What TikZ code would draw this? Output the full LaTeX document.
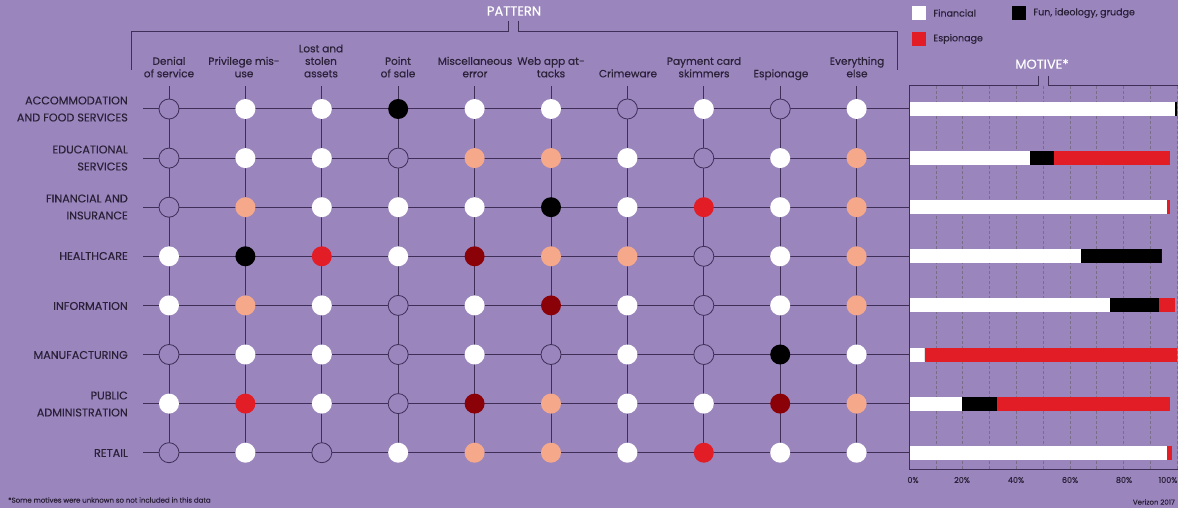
\documentclass[tikz,border=0pt]{standalone}
\usepackage{fontspec}
\setmainfont{Poppins}[FakeBold=0.35]
\usetikzlibrary{positioning, backgrounds}
\definecolor{bgpurple}{HTML}{9A86BD}
\definecolor{gridline}{HTML}{3F2E58}
\definecolor{inkdark}{HTML}{2A2038}
\definecolor{peach}{HTML}{F6A98A}
\definecolor{alertred}{HTML}{E21D25}
\definecolor{darkred}{HTML}{8A0208}

\begin{document}
\begin{tikzpicture}[x=1pt, y=-1pt,
  dot/.style={circle, minimum size=20pt, inner sep=0pt},
  m-e/.style={fill=bgpurple, draw=gridline, line width=0.8pt},
  m-w/.style={fill=white},
  m-k/.style={fill=black},
  m-p/.style={fill=peach},
  m-r/.style={fill=alertred},
  m-d/.style={fill=darkred},
  colhead/.style={font=\fontsize{10.5}{12.5}\selectfont, text=inkdark, align=center, anchor=south, text depth=0.25em, inner sep=0pt},
  rowhead/.style={font=\fontsize{11.2}{17}\selectfont, text=inkdark, align=right, anchor=east, inner sep=0pt},
  gridrule/.style={draw=gridline, line width=1pt},
  tenline/.style={draw=gridline!70, line width=0.5pt, densely dashed},
  title/.style={font=\fontsize{13}{15}\selectfont, text=white},
  legsq/.style={minimum size=14pt, inner sep=0pt},
  legtxt/.style={font=\fontsize{9.5}{11}\selectfont, text=inkdark, inner sep=0pt},
  ticklbl/.style={font=\fontsize{8}{10}\selectfont, text=inkdark}
]
  \useasboundingbox (0,0) rectangle (1178,508);

  % Titles
  \node[title] (pattern) at (514,11) {PATTERN};
  \node[title] (motive) at (1042,64) {MOTIVE*};

  % Pattern columns
  \node[colhead] (hdr-1)  at (169,80) {Denial\\of service};
  \node[colhead] (hdr-2)  at (244,80) {Privilege mis-\\use};
  \node[colhead] (hdr-3)  at (321,80) {Lost and\\stolen\\assets};
  \node[colhead] (hdr-4)  at (398,80) {Point\\of sale};
  \node[colhead] (hdr-5)  at (475,80) {Miscellaneous\\error};
  \node[colhead] (hdr-6)  at (551,80) {Web app at-\\tacks};
  \node[colhead] (hdr-7)  at (628,80) {Crimeware};
  \node[colhead] (hdr-8)  at (704,80) {Payment card\\skimmers};
  \node[colhead] (hdr-9)  at (781,80) {Espionage};
  \node[colhead] (hdr-10) at (857,80) {Everything\\else};

  % Industries
  \node[rowhead] (lbl-1) at (128,109) {ACCOMMODATION\\AND FOOD SERVICES};
  \node[rowhead] (lbl-2) at (128,158) {EDUCATIONAL\\SERVICES};
  \node[rowhead] (lbl-3) at (128,207) {FINANCIAL AND\\INSURANCE};
  \node[rowhead] (lbl-4) at (128,256) {HEALTHCARE};
  \node[rowhead] (lbl-5) at (128,306) {INFORMATION};
  \node[rowhead] (lbl-6) at (128,355) {MANUFACTURING};
  \node[rowhead] (lbl-7) at (128,404) {PUBLIC\\ADMINISTRATION};
  \node[rowhead] (lbl-8) at (128,453) {RETAIL};

  % Dots: e empty, w white, k black, p peach, r red, d dark red
  \foreach \r/\list in {1/{e,w,w,k,w,w,e,w,e,w}, 2/{e,w,w,e,p,p,w,e,w,p},
                        3/{e,p,w,w,w,k,w,r,w,p}, 4/{w,k,r,w,d,p,p,e,w,p},
                        5/{w,p,w,e,w,d,w,e,w,p}, 6/{e,w,w,e,w,e,w,e,k,w},
                        7/{w,r,w,e,d,p,w,w,d,p}, 8/{e,w,e,w,p,p,w,r,w,w}}
  {
    \foreach \s [count=\c] in \list
      \node[dot, m-\s] (d-\r-\c) at ({169+(\c-1)*76.4}, {109+(\r-1)*49.1}) {};
  }

  % Grid behind the dots
  \begin{scope}[on background layer]
    \fill[bgpurple] (0,0) rectangle (1178,508);
    \foreach \c in {1,...,10} {
      \coordinate (top-\c) at ({169+(\c-1)*76.4}, 86);
      \draw[gridrule] (top-\c) -- (d-8-\c.center);
    }
    \foreach \r in {1,...,8} {
      \coordinate (rs-\r) at (143, {109+(\r-1)*49.1});
      \coordinate (ax-\r) at (909, {109+(\r-1)*49.1});
      \draw[gridrule] (rs-\r) -- (ax-\r);
    }
  \end{scope}

  % Brackets
  \draw[gridrule] (131,70) -- (131,32) -- (508,32) -- (508,21);
  \draw[gridrule] (518,21) -- (518,32) -- (897,32) -- (897,70);
  \draw[gridrule] (1038,76) -- (1038,86) -- (909,86);
  \draw[gridrule] (1048,76) -- (1048,86) -- (1178,86);

  % Motive chart
  \foreach \t in {1,...,10}
    \draw[tenline] ({909+\t*26.8},86) -- ({909+\t*26.8},469);
  \foreach \r/\a/\b/\e in {1/99.3/100/100, 2/45/54.1/97.3, 3/96.3/96.3/97.3,
                           4/64.2/94.3/94.3, 5/75.1/93.3/99.3, 6/5.8/5.8/100,
                           7/19.9/33/97.3, 8/96.3/96.3/98.3}
  {
    \pgfmathsetmacro\yy{109+(\r-1)*49.1}
    \fill[white] (909,{\yy-7}) rectangle ({909+\a*2.68},{\yy+7});
    \fill[black] ({909+\a*2.68},{\yy-7}) rectangle ({909+\b*2.68},{\yy+7});
    \fill[alertred] ({909+\b*2.68},{\yy-7}) rectangle ({909+\e*2.68},{\yy+7});
  }
  \draw[gridrule] (909,86) -- (909,469) -- (1178,469);
  \node[ticklbl] (tk-0)   at (913,480)  {0\%};
  \node[ticklbl] (tk-20)  at (962,480)  {20\%};
  \node[ticklbl] (tk-40)  at (1016,480) {40\%};
  \node[ticklbl] (tk-60)  at (1070,480) {60\%};
  \node[ticklbl] (tk-80)  at (1124,480) {80\%};
  \node[ticklbl] (tk-100) at (1168,480) {100\%};

  % Legend
  \node[legsq, fill=white] (lg-fin) at (919,13) {};
  \node[legtxt, right=7pt of lg-fin] {Financial};
  \node[legsq, fill=black] (lg-fun) at (1019,13) {};
  \node[legtxt, right=7pt of lg-fun] {Fun, ideology, grudge};
  \node[legsq, fill=alertred] (lg-esp) at (919,39) {};
  \node[legtxt, right=7pt of lg-esp] {Espionage};

  % Notes
  \node[anchor=west, inner sep=0pt, font=\fontsize{7}{8}\selectfont, text=inkdark] (note) at (8,500) {*Some motives were unknown so not included in this data};
  \node[anchor=east, inner sep=0pt, font=\fontsize{7}{8}\selectfont, text=inkdark] (src) at (1175,502) {Verizon 2017};
\end{tikzpicture}
\end{document}
